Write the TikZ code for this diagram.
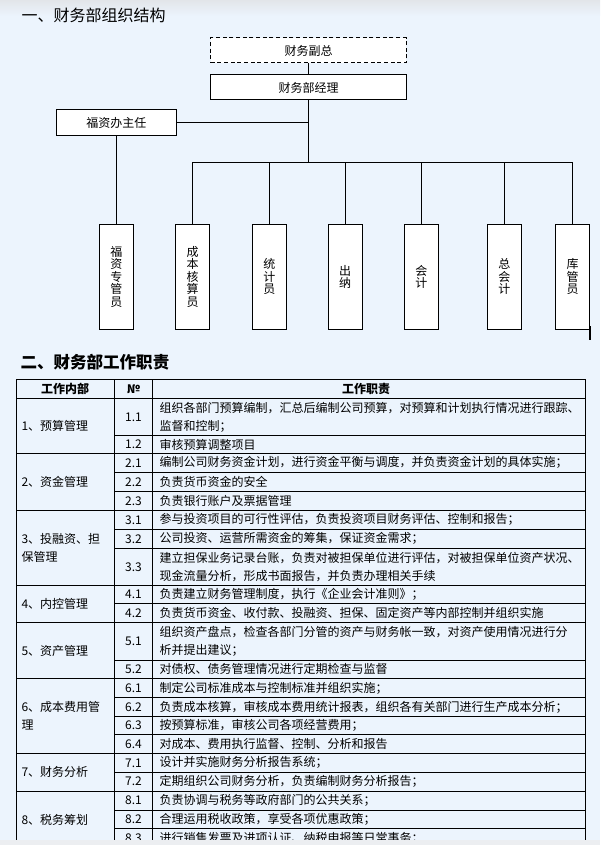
\documentclass[tikz,border=0pt]{standalone}
\usepackage{fontspec}
\setmainfont{Noto Sans CJK SC}
\usetikzlibrary{positioning}
\definecolor{bgblue}{RGB}{236,244,253}
\definecolor{topgrey}{RGB}{226,229,233}
\definecolor{footgrey}{RGB}{236,238,241}

\tikzset{
    box/.style={draw, fill=white, inner sep=0pt, align=center,
        font=\fontsize{9}{9.3}\selectfont},
    wbox/.style={box, minimum width=146.6pt, minimum height=18.75pt},
    vbox/.style={box, minimum width=25.8pt, minimum height=78.75pt},
    num/.style={inner sep=0pt, font=\fontsize{9}{9}\selectfont},
    duty/.style={anchor=west, inner sep=0pt, align=left,
        font=\fontsize{9}{13.5}\selectfont},
    head/.style={inner sep=0pt, font=\fontsize{9}{9}\selectfont\bfseries}
}

\begin{document}
\begin{tikzpicture}[x=0.75pt, y=-0.75pt, line width=0.75pt]
    \useasboundingbox (0,0) rectangle (600,845);

    % Fond
    \fill[bgblue] (0,0) rectangle (600,845);
    \shade[top color=topgrey, bottom color=bgblue] (0,0) rectangle (600,16);

    % Titre 1
    \node[anchor=west, inner sep=0pt, font=\fontsize{12}{12}\selectfont] (titre1)
        at (21,15) {一、财务部组织结构};

    % Organigramme
    \node[wbox, dash pattern=on 3pt off 2pt] (vp) at (308.5,50.5) {财务副总};
    \node[wbox] (mgr) at (308.5,87.5) {财务部经理};
    \node[box, minimum width=90.4pt, minimum height=19.5pt] (fz) at (116.3,123) {福资办主任};
    \coordinate (bus) at (308.5,162.3);

    \node[vbox] (b1) at (116.3,276.8) {福\\资\\专\\管\\员};
    \node[vbox] (b2) at (192.5,276.8) {成\\本\\核\\算\\员};
    \node[vbox] (b3) at (269.4,276.8) {统\\计\\员};
    \node[vbox] (b4) at (345.2,276.8) {出\\纳};
    \node[vbox] (b5) at (421.4,276.8) {会\\计};
    \node[vbox] (b6) at (504.4,276.8) {总\\会\\计};
    \node[vbox] (b7) at (572.5,276.8) {库\\管\\员};

    \draw (vp) -- (mgr);
    \draw (mgr) -- (bus);
    \draw (fz.east) -- (fz.east -| mgr);
    \draw (fz) -- (b1);
    \draw (b2.north) |- (bus) -| (b7.north);
    \foreach \b in {b3,b4,b5,b6}
        \draw (\b.north) -- (\b.north |- bus);
    \draw[line width=1.4pt] ([yshift=2.5pt]b7.south east) -- ++(0,14);

    % Titre 2
    \node[anchor=west, inner sep=0pt, font=\fontsize{12.4}{12.4}\selectfont\bfseries] (titre2)
        at (20,361.7) {二、财务部工作职责};

    % Tableau
    \foreach \y in {379.5,398.3,453.3,510.3,585.7,622.7,678.7,753.3,791}
        \draw (16,\y) -- (585.5,\y);
    \foreach \y in {435.7,472.3,491.7,529.3,548.3,603,660,697.7,716.7,734.3,772.3,810,828.3}
        \draw (114.3,\y) -- (585.5,\y);
    \foreach \x in {16,114.3,152.7,585.5}
        \draw (\x,379.5) -- (\x,845);

    \node[head] (h1) at (65.2,388.9) {工作内部};
    \node[head] (h2) at (133.5,388.9) {№};
    \node[head] (h3) at (366,388.9) {工作职责};

    \node[duty] (s1) at (21,425.8) {1、预算管理};
    \node[duty] (s2) at (21,481.8) {2、资金管理};
    \node[duty] (s3) at (21,548) {3、投融资、担\\保管理};
    \node[duty] (s4) at (21,604.2) {4、内控管理};
    \node[duty] (s5) at (21,650.7) {5、资产管理};
    \node[duty] (s6) at (21,716) {6、成本费用管\\理};
    \node[duty] (s7) at (21,772.2) {7、财务分析};
    \node[duty] (s8) at (21,819.5) {8、税务筹划};

    \foreach \n/\y/\t [count=\k] in {
        1.1/417/{组织各部门预算编制，汇总后编制公司预算，对预算和计划执行情况进行跟踪、\\监督和控制；},
        1.2/444.5/{审核预算调整项目},
        2.1/462.8/{编制公司财务资金计划，进行资金平衡与调度，并负责资金计划的具体实施；},
        2.2/482/{负责货币资金的安全},
        2.3/501/{负责银行账户及票据管理},
        3.1/519.8/{参与投资项目的可行性评估，负责投资项目财务评估、控制和报告；},
        3.2/538.8/{公司投资、运营所需资金的筹集，保证资金需求；},
        3.3/567/{建立担保业务记录台账，负责对被担保单位进行评估，对被担保单位资产状况、\\现金流量分析，形成书面报告，并负责办理相关手续},
        4.1/594.4/{负责建立财务管理制度，执行《企业会计准则》；},
        4.2/612.8/{负责货币资金、收付款、投融资、担保、固定资产等内部控制并组织实施},
        5.1/641.3/{组织资产盘点，检查各部门分管的资产与财务帐一致，对资产使用情况进行分\\析并提出建议；},
        5.2/669.3/{对债权、债务管理情况进行定期检查与监督},
        6.1/688.2/{制定公司标准成本与控制标准并组织实施；},
        6.2/707.2/{负责成本核算，审核成本费用统计报表，组织各有关部门进行生产成本分析；},
        6.3/725.5/{按预算标准，审核公司各项经营费用；},
        6.4/743.8/{对成本、费用执行监督、控制、分析和报告},
        7.1/762.8/{设计并实施财务分析报告系统；},
        7.2/781.6/{定期组织公司财务分析，负责编制财务分析报告；},
        8.1/800.5/{负责协调与税务等政府部门的公共关系；},
        8.2/819.2/{合理运用税收政策，享受各项优惠政策；},
        8.3/838/{进行销售发票及进项认证、纳税申报等日常事务；}}
    {
        \node[num] (n\k) at (133.5,\y) {\n};
        \node[duty] (d\k) at (159,\y) {\t};
    }

    % Bande du bas
    \fill[footgrey] (0,840) rectangle (600,845);
\end{tikzpicture}
\end{document}
